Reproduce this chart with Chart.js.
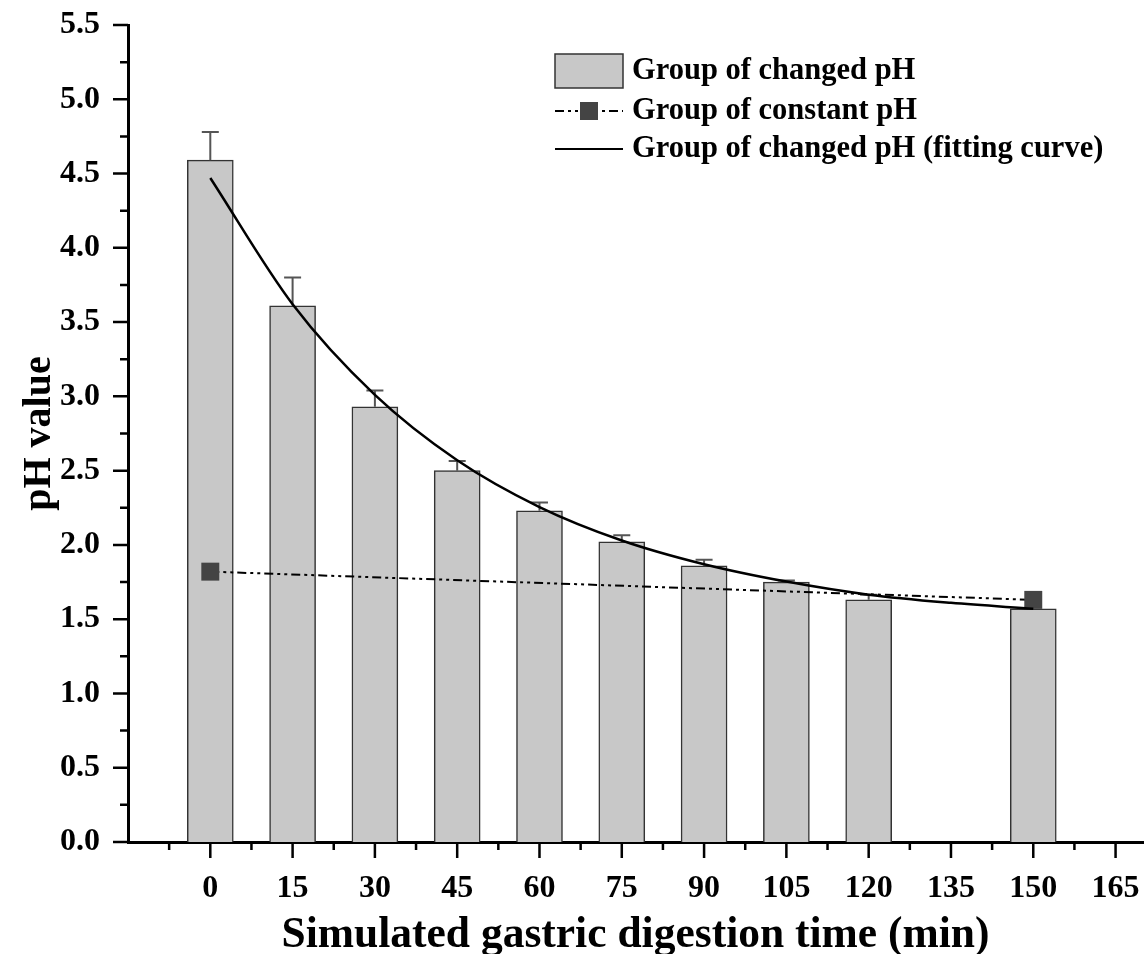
<!DOCTYPE html>
<html lang="en">
<head>
<meta charset="UTF-8">
<title>pH during simulated gastric digestion</title>
<script src="https://cdn.jsdelivr.net/npm/chart.js"></script>
<style>
  body { margin: 0; background: #fff; }
  #wrap { width: 1147px; height: 954px; }
</style>
</head>
<body>
<div id="wrap"><canvas id="phChart"></canvas></div>
<script>
// digestion time points (min)
const times = [0, 15, 30, 45, 60, 75, 90, 105, 120, 150];
// group of changed pH: means and upper error
const changedPH = [4.59, 3.61, 2.93, 2.50, 2.23, 2.02, 1.86, 1.75, 1.63, 1.57];
const changedErr = [0.19, 0.19, 0.11, 0.065, 0.055, 0.045, 0.04, 0.01, 0.035, 0.01];
// group of constant pH
const constTimes = [0, 150];
const constPH = [1.82, 1.63];
// fitting curve of the changed group
const fitTimes = [0, 15, 30, 45, 60, 75, 90, 105, 120, 135, 150];
const fitPH = [4.47, 3.62, 3.01, 2.57, 2.255, 2.03, 1.87, 1.753, 1.665, 1.61, 1.57];
// x axis tick labels
const xTickLabels = [0, 15, 30, 45, 60, 75, 90, 105, 120, 135, 150, 165];

const serif = "'Liberation Serif', 'Times New Roman', serif";

// major + minor tick marks on both axes
const axisTicks = {
  id: 'axisTicks',
  afterDraw(chart) {
    const { ctx, chartArea, scales: { x, y } } = chart;
    ctx.save();
    ctx.strokeStyle = '#000';
    ctx.lineWidth = 2.5;
    ctx.beginPath();
    for (let k = 0; k <= 22; k++) {
      const py = y.getPixelForValue(k * 0.25);
      ctx.moveTo(chartArea.left, py);
      ctx.lineTo(chartArea.left - (k % 2 === 0 ? 15 : 8), py);
    }
    for (let k = -1; k <= 22; k++) {
      const px = x.getPixelForValue(k * 7.5);
      ctx.moveTo(px, chartArea.bottom);
      ctx.lineTo(px, chartArea.bottom + (k % 2 === 0 ? 16 : 8));
    }
    ctx.stroke();
    ctx.restore();
  }
};

// upper error bars, drawn right after the bars so the lines sit on top
const errorBars = {
  id: 'errorBars',
  afterDatasetDraw(chart, args) {
    if (args.index !== 0) return;
    const { ctx, scales: { x, y } } = chart;
    ctx.save();
    ctx.strokeStyle = '#555';
    ctx.lineWidth = 2;
    times.forEach((t, i) => {
      const px = x.getPixelForValue(t);
      const top = y.getPixelForValue(changedPH[i]);
      const end = y.getPixelForValue(changedPH[i] + changedErr[i]);
      ctx.beginPath();
      ctx.moveTo(px, top);
      ctx.lineTo(px, end);
      ctx.moveTo(px - 8.5, end);
      ctx.lineTo(px + 8.5, end);
      ctx.stroke();
    });
    ctx.restore();
  }
};

// legend inside the plot, top right
const legendBox = {
  id: 'legendBox',
  afterDraw(chart) {
    const { ctx, chartArea } = chart;
    const ds = chart.data.datasets;
    const x0 = chartArea.left + 427, w = 68, tx = x0 + 77;
    const rows = [chartArea.top + 46, chartArea.top + 86, chartArea.top + 124];
    ctx.save();
    // bars
    ctx.fillStyle = ds[0].backgroundColor;
    ctx.strokeStyle = ds[0].borderColor;
    ctx.lineWidth = 1.5;
    ctx.fillRect(x0, rows[0] - 17, w, 34);
    ctx.strokeRect(x0, rows[0] - 17, w, 34);
    // constant pH line + marker
    ctx.strokeStyle = '#000';
    ctx.lineWidth = 2;
    ctx.setLineDash(ds[1].borderDash);
    ctx.beginPath();
    ctx.moveTo(x0, rows[1]);
    ctx.lineTo(x0 + w, rows[1]);
    ctx.stroke();
    ctx.setLineDash([]);
    ctx.fillStyle = ds[1].pointBackgroundColor;
    ctx.fillRect(x0 + w / 2 - 9, rows[1] - 9, 18, 18);
    // fitting curve
    ctx.lineWidth = 2;
    ctx.beginPath();
    ctx.moveTo(x0, rows[2]);
    ctx.lineTo(x0 + w, rows[2]);
    ctx.stroke();
    // labels
    ctx.fillStyle = '#000';
    ctx.font = 'bold 30.5px ' + serif;
    ctx.textBaseline = 'middle';
    ds.forEach((d, i) => ctx.fillText(d.label, tx, rows[i]));
    ctx.restore();
  }
};

const ctx = document.getElementById('phChart').getContext('2d');
new Chart(ctx, {
  type: 'bar',
  data: {
    datasets: [{
      type: 'bar',
      label: 'Group of changed pH',
      data: times.map((t, i) => ({ x: t, y: changedPH[i] })),
      backgroundColor: '#c8c8c8',
      borderColor: '#333',
      borderWidth: 1.5,
      barThickness: 46,
      order: 3
    }, {
      type: 'line',
      label: 'Group of constant pH',
      data: constTimes.map((t, i) => ({ x: t, y: constPH[i] })),
      borderColor: '#000',
      borderWidth: 2,
      borderDash: [9, 4, 3, 4, 3, 4],
      pointStyle: 'rect',
      pointRadius: 12.7,
      pointBackgroundColor: '#444',
      pointBorderColor: '#444',
      pointBorderWidth: 0,
      fill: false,
      order: 2
    }, {
      type: 'line',
      label: 'Group of changed pH (fitting curve)',
      data: fitTimes.map((t, i) => ({ x: t, y: fitPH[i] })),
      borderColor: '#000',
      borderWidth: 2.5,
      pointRadius: 0,
      cubicInterpolationMode: 'monotone',
      fill: false,
      order: 1
    }]
  },
  options: {
    responsive: true,
    maintainAspectRatio: false,
    animation: false,
    layout: { autoPadding: false, padding: { top: 25, right: 4, left: 0, bottom: 0 } },
    plugins: { legend: { display: false }, tooltip: { enabled: false } },
    scales: {
      x: {
        type: 'linear',
        min: -15,
        max: 170,
        offset: false,
        afterBuildTicks: s => { s.ticks = xTickLabels.map(v => ({ value: v })); },
        afterFit: s => { s.height = 112; s.paddingLeft = 0; s.paddingRight = 0; },
        grid: { display: false, offset: false },
        border: { display: true, color: '#000', width: 3 },
        ticks: {
          color: '#000',
          font: { family: serif, size: 32, weight: 'bold' },
          padding: 20,
          maxRotation: 0,
          autoSkip: false
        },
        title: {
          display: true,
          text: 'Simulated gastric digestion time (min)',
          color: '#000',
          font: { family: serif, size: 43.5, weight: 'bold', lineHeight: 1.0 },
          padding: { top: 0, bottom: -4 }
        }
      },
      y: {
        min: 0,
        max: 5.5,
        afterFit: s => { s.width = 128; s.paddingTop = 0; s.paddingBottom = 0; },
        grid: { display: false },
        border: { display: true, color: '#000', width: 3 },
        ticks: {
          stepSize: 0.5,
          color: '#000',
          font: { family: serif, size: 32, weight: 'bold' },
          padding: 20,
          callback: v => v.toFixed(1)
        },
        title: {
          display: true,
          text: 'pH value',
          color: '#000',
          font: { family: serif, size: 40, weight: 'bold' },
          padding: { top: 16, bottom: 0 }
        }
      }
    }
  },
  plugins: [axisTicks, errorBars, legendBox]
});
</script>
</body>
</html>
